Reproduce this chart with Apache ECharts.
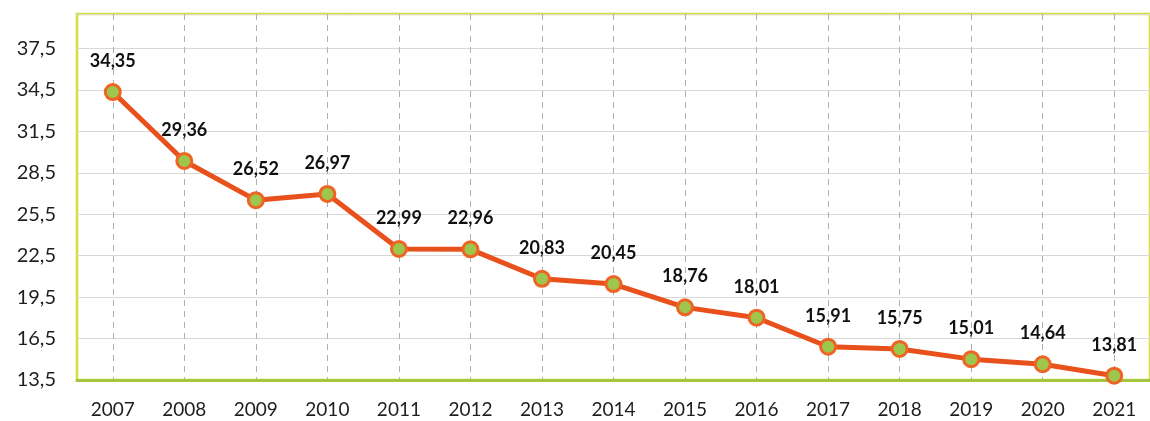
<!DOCTYPE html>
<html>
<head>
<meta charset="utf-8">
<script src="https://cdn.jsdelivr.net/npm/echarts@6/dist/echarts.min.js"></script>
<style>
  html, body { margin: 0; padding: 0; background: #ffffff; }
  #chart { width: 1150px; height: 421px; }
</style>
</head>
<body>
<div id="chart"></div>
<script>
// Years on the category axis
const years = ['2007', '2008', '2009', '2010', '2011', '2012', '2013', '2014',
               '2015', '2016', '2017', '2018', '2019', '2020', '2021'];
// Yearly values
const values = [34.35, 29.36, 26.52, 26.97, 22.99, 22.96, 20.83, 20.45,
                18.76, 18.01, 15.91, 15.75, 15.01, 14.64, 13.81];
// Value-axis ticks shown at the left
const yTicks = [13.5, 16.5, 19.5, 22.5, 25.5, 28.5, 31.5, 34.5, 37.5];

const fmt = v => v.toFixed(2).replace('.', ',');
const fmtTick = v => v.toFixed(1).replace('.', ',');

const chart = echarts.init(document.getElementById('chart'), null, { renderer: 'canvas' });

chart.setOption({
  animation: false,
  backgroundColor: '#ffffff',
  textStyle: { fontFamily: 'Lato, "Open Sans", sans-serif' },
  grid: {
    left: 77, top: 14, width: 1084, height: 366,
    show: true,
    borderColor: '#d2e03e',
    borderWidth: 2.5,
    backgroundColor: 'transparent'
  },
  xAxis: {
    type: 'category',
    data: years,
    boundaryGap: true,
    axisLine: { show: true, lineStyle: { color: '#a3c540', width: 3 } },
    axisTick: { show: false, alignWithLabel: true },
    axisLabel: { color: '#1e1e1e', fontSize: 19, margin: 20 },
    splitLine: {
      show: true,
      alignWithLabel: true,
      lineStyle: { color: '#b0b0b0', type: [6, 5], width: 1 }
    }
  },
  yAxis: {
    type: 'value',
    min: yTicks[0],
    max: 40,
    interval: 3,
    axisLine: { show: false },
    axisTick: { show: false },
    axisLabel: {
      color: '#1e1e1e',
      fontSize: 20,
      margin: 21,
      showMaxLabel: false,
      formatter: v => (yTicks.indexOf(v) >= 0 ? fmtTick(v) : '')
    },
    splitLine: { show: true, lineStyle: { color: '#d8d8d8', width: 1 } }
  },
  series: [{
    type: 'line',
    data: values,
    symbol: 'circle',
    symbolSize: 15,
    lineStyle: { color: '#e8501c', width: 5 },
    itemStyle: { color: '#9ec64c', borderColor: '#ee6424', borderWidth: 3 },
    label: {
      show: true,
      position: 'top',
      distance: 13,
      color: '#111111',
      fontSize: 18,
      fontWeight: 'bold',
      formatter: p => fmt(p.value)
    },
    z: 3
  }]
});
</script>
</body>
</html>
